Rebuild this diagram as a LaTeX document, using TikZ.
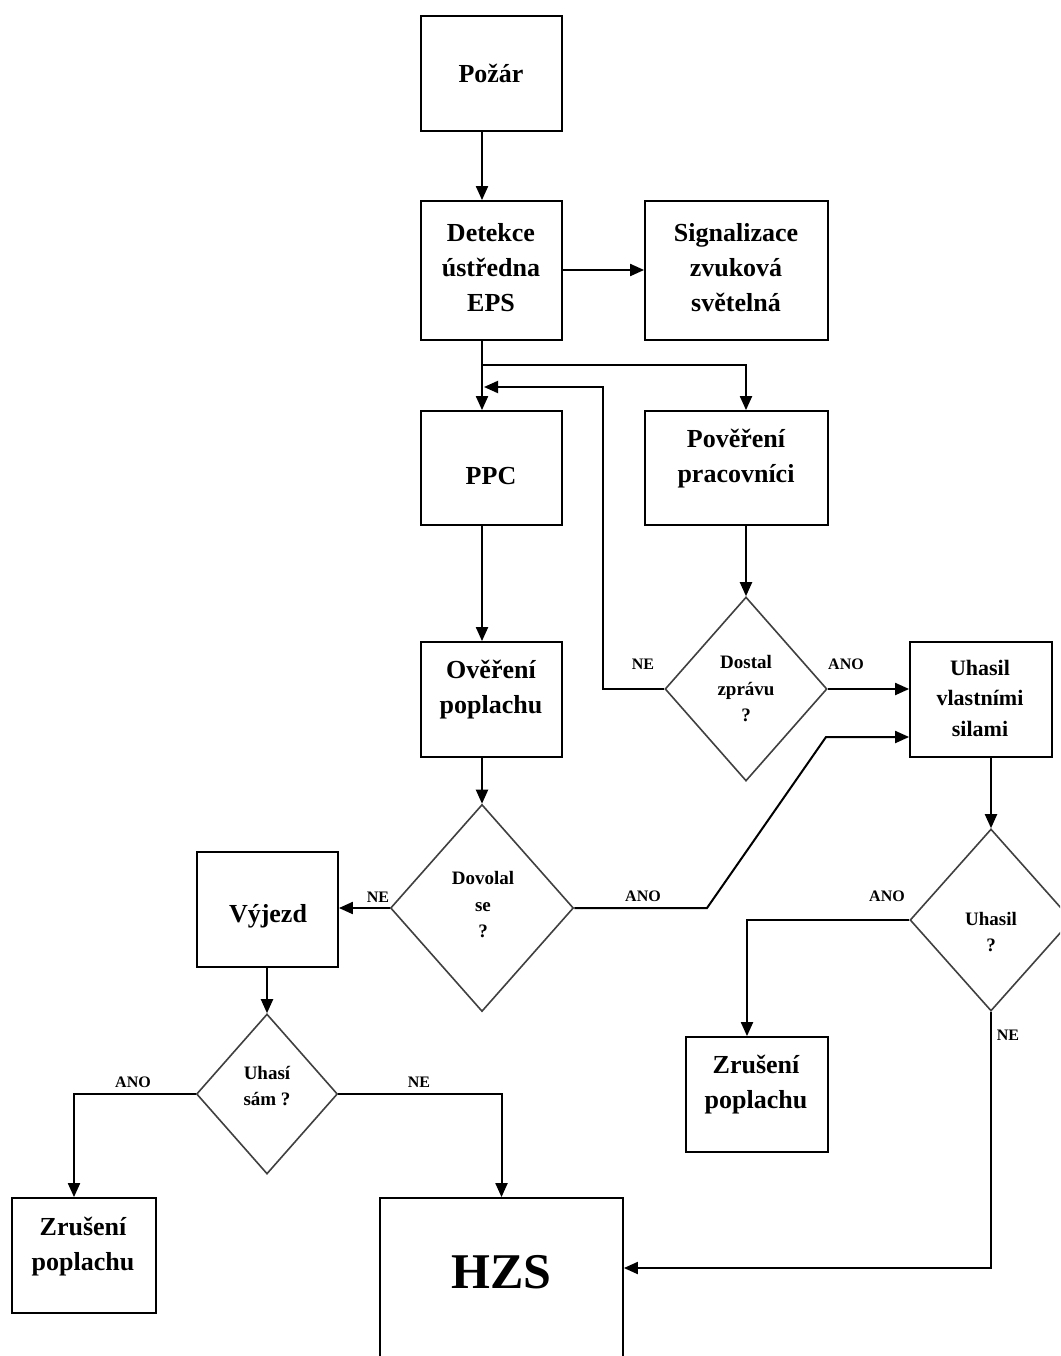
\documentclass[tikz,border=0pt]{standalone}
\usepackage{fontspec}
\setmainfont{Liberation Serif}
\usetikzlibrary{shapes.geometric,arrows.meta,calc}
\begin{document}
\begin{tikzpicture}[x=1pt,y=-1pt,
  box/.style={draw=black,line width=1.8pt,inner sep=0pt,minimum width=141pt,minimum height=115pt},
  dia/.style={diamond,draw=black!75,line width=1.6pt,inner sep=0pt},
  big/.style={font=\fontsize{26}{35}\selectfont\bfseries,align=center,inner sep=0pt},
  small/.style={font=\fontsize{19}{26.5}\selectfont\bfseries,align=center,inner sep=0pt},
  lab/.style={font=\fontsize{16}{18}\selectfont\bfseries,inner sep=0pt},
  arr/.style={line width=2pt,-{Triangle[length=14pt,width=12pt]}}]
\clip (0,0) rectangle (1060,1356);
\fill[white] (0,0) rectangle (1060,1356);
% boxes
\node[box] (poz) at (491.5,73.5) {};
\node[big] at (491,73) {Požár};
\node[box,minimum height=139pt] (det) at (491.5,270.5) {};
\node[big] at (491,268) {Detekce\\ústředna\\EPS};
\node[box,minimum width=183pt,minimum height=139pt] (sig) at (736.5,270.5) {};
\node[big] at (736,268) {Signalizace\\zvuková\\světelná};
\node[box,minimum height=114pt] (ppc) at (491.5,468) {};
\node[big] at (491,476) {PPC};
\node[box,minimum width=183pt,minimum height=114pt] (pov) at (736.5,468) {};
\node[big] at (736,459) {Pověření\\pracovníci};
\node[box] (ove) at (491.5,699.5) {};
\node[big] at (491,690) {Ověření\\poplachu};
\node[box,minimum width=142pt] (uv) at (981,699.5) {};
\node[small,font=\fontsize{22}{30.5}\selectfont\bfseries] at (980,698) {Uhasil\\vlastními\\silami};
\node[box] (vyj) at (267.5,909.5) {};
\node[big] at (268,916) {Výjezd};
\node[box,minimum width=144pt] (zl) at (84,1255.5) {};
\node[big] at (83,1247) {Zrušení\\poplachu};
\node[box,minimum width=142pt] (zr) at (757,1094.5) {};
\node[big] at (756,1085) {Zrušení\\poplachu};
\node[box,minimum width=243pt,minimum height=182pt] (hzs) at (501.5,1289) {};
\node[font=\fontsize{50}{50}\selectfont\bfseries,inner sep=0pt] at (501.5,1272) {HZS};
% diamonds
\node[dia,minimum width=162pt,minimum height=184pt] (dos) at (746,689) {};
\node[small] at (746,689) {Dostal\\zprávu\\?};
\node[dia,minimum width=183pt,minimum height=207pt] (dov) at (482,908) {};
\node[small] at (483,905) {Dovolal\\se\\?};
\node[dia,minimum width=141pt,minimum height=160pt] (uss) at (267,1094) {};
\node[small] at (267,1086) {Uhasí\\sám ?};
\node[dia,minimum width=162pt,minimum height=182pt] (uh) at (991,920) {};
\node[small] at (991,932) {Uhasil\\?};
% helper coordinates
\coordinate (mx) at (482,0);
\coordinate (rx) at (746,0);
\coordinate (br) at (482,365);
\coordinate (fb) at (603,387);
\coordinate (fbe) at (484,387);
\coordinate (a1) at (707,908);
\coordinate (a2) at (826,737);
\coordinate (lx) at (74,0);
\coordinate (zx) at (747,0);
\coordinate (hy) at (0,1268);
\coordinate (sy) at (0,270);
% connectors
\draw[arr] (det.east |- sy) -- (sig.west |- sy);
\draw[arr] (poz.south -| mx) -- (det.north -| mx);
\draw[arr] (det.south -| mx) -- (ppc.north -| mx);
\draw[arr] (br) -| (pov.north -| rx);
\draw[arr] (dos.west) -| (fb) -- (fbe);
\draw[arr] (pov.south -| rx) -- (dos.north);
\draw[arr] (dos.east) -- (dos.east -| uv.west);
\draw[arr] (ppc.south -| mx) -- (ove.north -| mx);
\draw[arr] (ove.south -| mx) -- (dov.north);
\draw[arr] (dov.east) -- (a1) -- (a2) -- (a2 -| uv.west);
\draw[arr] (dov.west) -- (dov.west -| vyj.east);
\draw[arr] (vyj.south -| uss.north) -- (uss.north);
\draw[arr] (uss.west) -| (zl.north -| lx);
\draw[arr] (uss.east) -| (hzs.north);
\draw[arr] (uv.south -| uh.north) -- (uh.north);
\draw[arr] (uh.west) -| (zr.north -| zx);
\draw[arr] (uh.south) |- (hzs.east |- hy);
% labels
\node[lab] at (643,664) {NE};
\node[lab] at (846,664) {ANO};
\node[lab] at (643,896) {ANO};
\node[lab] at (378,897) {NE};
\node[lab] at (133,1082) {ANO};
\node[lab] at (419,1082) {NE};
\node[lab] at (887,896) {ANO};
\node[lab] at (1008,1035) {NE};
\end{tikzpicture}
\end{document}
